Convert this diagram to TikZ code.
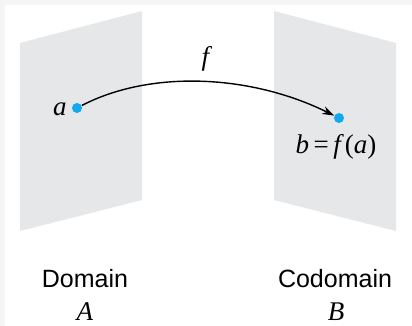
\documentclass[tikz,border=0pt]{standalone}
\usepackage{fontspec}
\setmainfont{Liberation Serif}
\setsansfont{Liberation Sans}
\usetikzlibrary{arrows.meta}
\definecolor{panelgray}{HTML}{E6E7E8}
\definecolor{dotblue}{HTML}{12A9F0}
\definecolor{framegray}{HTML}{F5F5F5}
\tikzset{
  panel/.style={fill=panelgray, draw=none},
  dot/.style={circle, fill=dotblue, inner sep=0pt, minimum size=5pt},
  mathlbl/.style={font=\fontsize{13.5}{15}\selectfont, inner sep=1pt},
  caplbl/.style={font=\fontsize{12.5}{14}\selectfont\sffamily, inner sep=0pt},
  conn/.style={line width=0.7pt, -{Stealth[length=6pt,width=4pt]}}
}
\begin{document}
\begin{tikzpicture}[x=0.5pt,y=-0.5pt]
\useasboundingbox (0,0) rectangle (412,326);
\fill[framegray] (0,0) rectangle (412,326);
\fill[white] (5,5) rectangle (412,326);
\fill[panel] (20,43) -- (142,11) -- (142,200) -- (20,231) -- cycle;
\fill[panel] (274,11) -- (396,43) -- (396,231) -- (274,200) -- cycle;
\node[dot] (a) at (77,108) {};
\node[dot] (b) at (339,118) {};
\node[mathlbl, anchor=east] (la) at (69,109) {\textit{a}};
\node[mathlbl, anchor=north] (lb) at (336,132) {\textit{b}\,=\,\textit{f}\kern0.5pt(\textit{a})};
\draw[conn] (a) .. controls (150,70) and (250,74) .. (b);
\node[mathlbl] (lf) at (207,59) {\textit{f}};
\node[caplbl] (dom) at (85,279) {Domain};
\node[caplbl] (cod) at (335,279) {Codomain};
\node[mathlbl] (A) at (85,312) {\textit{A}};
\node[mathlbl] (B) at (336,312) {\textit{B}};
\end{tikzpicture}
\end{document}
